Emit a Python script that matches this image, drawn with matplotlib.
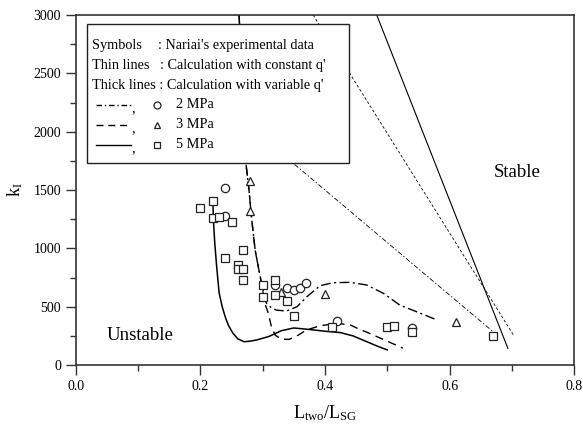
import matplotlib
matplotlib.use('Agg')
import matplotlib.pyplot as plt
from matplotlib.patches import Rectangle
from matplotlib.lines import Line2D

plt.rcParams['font.family'] = ['Liberation Serif', 'DejaVu Serif']
plt.rcParams['mathtext.fontset'] = 'custom'
plt.rcParams['mathtext.rm'] = 'Liberation Serif'
plt.rcParams['mathtext.it'] = 'Liberation Serif:italic'
plt.rcParams['lines.scale_dashes'] = False

# ---- experimental data (Nariai) ----
x_2mpa = [0.239, 0.239, 0.320, 0.339, 0.350, 0.360, 0.370, 0.420, 0.539]
y_2mpa = [1517, 1280, 686, 663, 643, 657, 700, 380, 314]
x_3mpa = [0.2795, 0.2795, 0.330, 0.400, 0.610]
y_3mpa = [1580, 1322, 625, 606, 371]
x_5mpa = [0.200, 0.2196, 0.2196, 0.230, 0.250, 0.269, 0.240, 0.261, 0.261, 0.269,
          0.269, 0.300, 0.300, 0.320, 0.320, 0.339, 0.350, 0.411, 0.500, 0.510,
          0.539, 0.670]
y_5mpa = [1348, 1408, 1257, 1266, 1228, 988, 918, 857, 820, 820,
          728, 684, 580, 728, 600, 551, 420, 328, 323, 337,
          285, 249]

# ---- thick lines: calculation with variable q' ----
x_thick_5 = [0.220, 0.221, 0.223, 0.226, 0.230, 0.235, 0.240, 0.245, 0.252, 0.260,
             0.270, 0.280, 0.290, 0.310, 0.330, 0.350, 0.375, 0.400, 0.425, 0.445,
             0.465, 0.485, 0.500]
y_thick_5 = [1400, 1230, 1050, 850, 620, 500, 410, 340, 275, 225,
             200, 205, 215, 245, 295, 318, 305, 290, 278, 250,
             205, 160, 130]
x_thick_3 = [0.262, 0.268, 0.273, 0.278, 0.281, 0.285, 0.288, 0.293, 0.298, 0.304,
             0.309, 0.314, 0.320, 0.330, 0.342, 0.355, 0.370, 0.392, 0.419, 0.440,
             0.456, 0.467, 0.499, 0.525]
y_thick_3 = [3000, 2400, 1730, 1500, 1320, 1120, 980, 840, 700, 520,
             443, 328, 257, 222, 220, 250, 300, 337, 357, 345,
             305, 282, 207, 145]
x_thick_2 = [0.262, 0.268, 0.273, 0.278, 0.281, 0.285, 0.288, 0.293, 0.298, 0.302,
             0.306, 0.314, 0.322, 0.338, 0.355, 0.371, 0.392, 0.413, 0.440, 0.467,
             0.494, 0.520, 0.547, 0.580]
y_thick_2 = [3000, 2400, 1730, 1500, 1320, 1120, 980, 840, 700, 610,
             530, 490, 471, 463, 500, 586, 680, 706, 709, 686,
             614, 514, 457, 386]

# ---- thin lines: calculation with constant q' ----
x_thin_5 = [0.483, 0.6935]
y_thin_5 = [3000, 143]
x_thin_3 = [0.381, 0.7025]
y_thin_3 = [3000, 257]
x_thin_2 = [0.300, 0.673]
y_thin_2 = [1950, 271]

xticks = [0.0, 0.2, 0.4, 0.6, 0.8]
yticks = [0, 500, 1000, 1500, 2000, 2500, 3000]

DASHDOT_THICK = (0, (7, 2.5, 1.5, 2.5))
DASHED_THICK = (0, (6, 4))
DASHDOT_THIN = (0, (3.5, 1.5, 1, 1.5))
DASHED_THIN = (0, (2, 1.5))
DASHDOT_LEG = (0, (4, 2, 1, 2))
DASHED_LEG = (0, (5, 3.5))

fig = plt.figure(figsize=(5.83, 4.28), dpi=100)
ax = fig.add_axes([0.130, 0.147, 0.855, 0.818])

lc = 'black'
# thin lines
ax.plot(x_thin_5, y_thin_5, color=lc, lw=0.8, linestyle='-')
ax.plot(x_thin_3, y_thin_3, color=lc, lw=0.6, linestyle=DASHED_THIN)
ax.plot(x_thin_2, y_thin_2, color=lc, lw=0.6, linestyle=DASHDOT_THIN)
# thick lines
ax.plot(x_thick_5, y_thick_5, color=lc, lw=1.1, linestyle='-')
ax.plot(x_thick_3, y_thick_3, color=lc, lw=1.0, linestyle=DASHED_THICK)
ax.plot(x_thick_2, y_thick_2, color=lc, lw=1.0, linestyle=DASHDOT_THICK)

mk = dict(linestyle='none', markerfacecolor='white', markeredgecolor='#222222',
          markeredgewidth=0.9, markersize=6, zorder=5)
ax.plot(x_2mpa, y_2mpa, marker='o', **mk)
ax.plot(x_3mpa, y_3mpa, marker='^', **mk)
ax.plot(x_5mpa, y_5mpa, marker='s', **mk)

ax.set_xlim(0.0, 0.8)
ax.set_ylim(0, 3000)
ax.set_xticks(xticks)
ax.set_xticklabels(['%.1f' % v for v in xticks])
ax.set_yticks(yticks)
ax.set_yticklabels([str(v) for v in yticks])
ax.set_xticks([0.1, 0.3, 0.5, 0.7], minor=True)
ax.set_yticks([250, 750, 1250, 1750, 2250, 2750], minor=True)
ax.tick_params(which='both', direction='out', top=False, right=False,
               labelsize=10, color='#333333', width=1.0)
ax.tick_params(which='major', length=7)
ax.tick_params(which='minor', length=4)
for s in ax.spines.values():
    s.set_linewidth(1.2)
    s.set_color('#333333')

ax.set_xlabel(r'$\mathrm{L_{two}/L_{SG}}$', fontsize=13, labelpad=8)
ax.set_ylabel(r'$\mathrm{k_I}$', fontsize=13, labelpad=6)

ax.text(0.709, 1646, 'Stable', fontsize=13.5, ha='center', va='center')
ax.text(0.103, 257, 'Unstable', fontsize=13.5, ha='center', va='center')

# ---- legend box drawn manually ----
tA = ax.transAxes
ax.add_patch(Rectangle((0.0215, 0.578), 0.5275, 0.395, transform=tA,
                       facecolor='white', edgecolor='#222222', lw=1.0, zorder=10))
fs = 10.3
rows = [0.914, 0.857, 0.800, 0.743, 0.686, 0.629]
ax.text(0.0335, rows[0], 'Symbols', fontsize=fs, va='center', transform=tA, zorder=11)
ax.text(0.165, rows[0], ": Nariai's experimental data", fontsize=fs, va='center', transform=tA, zorder=11)
ax.text(0.0335, rows[1], 'Thin lines', fontsize=fs, va='center', transform=tA, zorder=11)
ax.text(0.169, rows[1], ": Calculation with constant q'", fontsize=fs, va='center', transform=tA, zorder=11)
ax.text(0.0335, rows[2], "Thick lines : Calculation with variable q'", fontsize=fs, va='center', transform=tA, zorder=11)

leg_items = [(DASHDOT_LEG, 'o', '2 MPa'), (DASHED_LEG, '^', '3 MPa'), ('-', 's', '5 MPa')]
for (ls, m, lab), yy in zip(leg_items, rows[3:]):
    ax.add_line(Line2D([0.0415, 0.1115], [yy, yy], transform=tA, color=lc, lw=1.0,
                       linestyle=ls, zorder=11))
    ax.text(0.1125, yy - 0.012, ',', fontsize=fs, va='center', transform=tA, zorder=11)
    ax.add_line(Line2D([0.162], [yy], transform=tA, marker=m, markersize=5,
                       markerfacecolor='white', markeredgecolor='#222222',
                       markeredgewidth=0.9, linestyle='none', zorder=11))
    ax.text(0.202, yy, lab, fontsize=fs, va='center', transform=tA, zorder=11)

fig.savefig('out.png', dpi=100)
